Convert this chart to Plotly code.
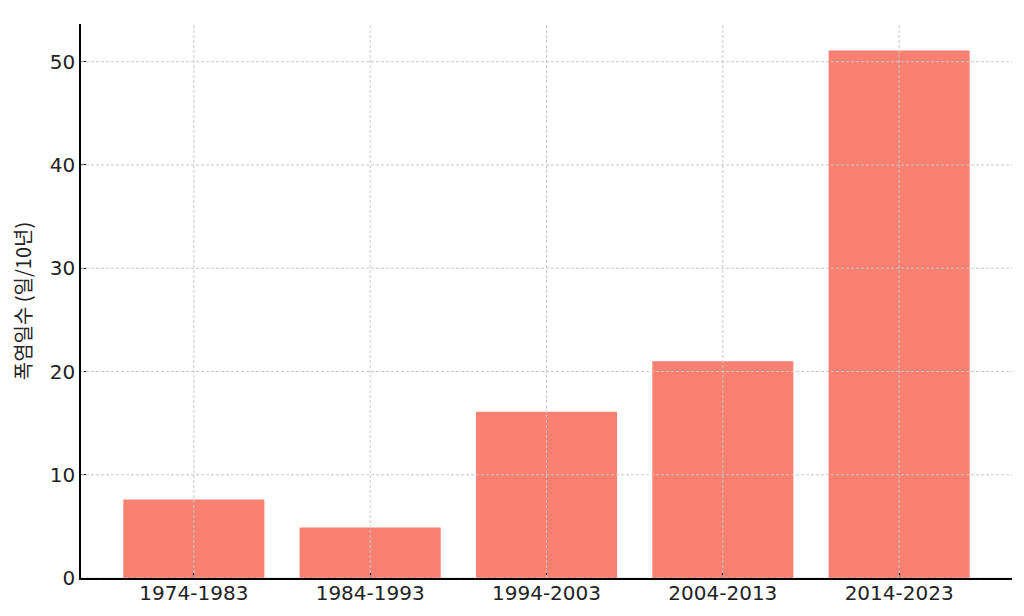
import plotly.graph_objects as go

categories = ["1974-1983", "1984-1993", "1994-2003", "2004-2013", "2014-2023"]
heatwave_days = [7.6, 4.9, 16.1, 21.0, 51.1]
y_ticks = [0, 10, 20, 30, 40, 50]

bar_color = "#FA8072"
grid_color = "#c8c8c8"

fig = go.Figure()
fig.add_trace(go.Bar(
    x=list(range(len(categories))),
    y=heatwave_days,
    width=0.8,
    marker=dict(color=bar_color, line=dict(width=0)),
    hoverinfo="y",
))

ymax = max(heatwave_days) * 1.05
xmin, xmax = -0.4 - 0.24, len(categories) - 1 + 0.4 + 0.24

shapes = []
for i in range(len(categories)):
    shapes.append(dict(type="line", xref="x", yref="y", x0=i, x1=i, y0=0, y1=ymax,
                       line=dict(color=grid_color, width=1, dash="3px,2px"), layer="above"))
for t in y_ticks:
    shapes.append(dict(type="line", xref="x", yref="y", x0=xmin, x1=xmax, y0=t, y1=t,
                       line=dict(color=grid_color, width=1, dash="3px,2px"), layer="above"))

fig.update_layout(
    width=1024, height=616,
    margin=dict(l=73, r=20, t=16, b=46),
    paper_bgcolor="white", plot_bgcolor="white",
    font=dict(family="DejaVu Sans, Noto Sans CJK KR", size=20, color="#222222"),
    showlegend=False,
    shapes=shapes,
    xaxis=dict(
        range=[xmin, xmax],
        tickmode="array", tickvals=list(range(len(categories))), ticktext=categories,
        showgrid=False, zeroline=False, automargin=False,
        showline=True, linecolor="black", linewidth=1.5,
        ticks="inside", ticklen=5, tickcolor="black", tickwidth=1,
        tickfont=dict(size=20, color="#222222"),
        ticklabelstandoff=-4,
    ),
    yaxis=dict(
        range=[0, ymax],
        tickmode="array", tickvals=y_ticks,
        showgrid=False, zeroline=False, automargin=False,
        showline=True, linecolor="black", linewidth=1.5,
        ticks="inside", ticklen=5, tickcolor="black", tickwidth=1,
        tickfont=dict(size=20, color="#222222"),
        title=dict(text="폭염일수 (일/10년)", font=dict(family="Noto Sans CJK KR, DejaVu Sans", size=20, color="#222222"), standoff=18),
    ),
)

fig.write_html("out.html")
